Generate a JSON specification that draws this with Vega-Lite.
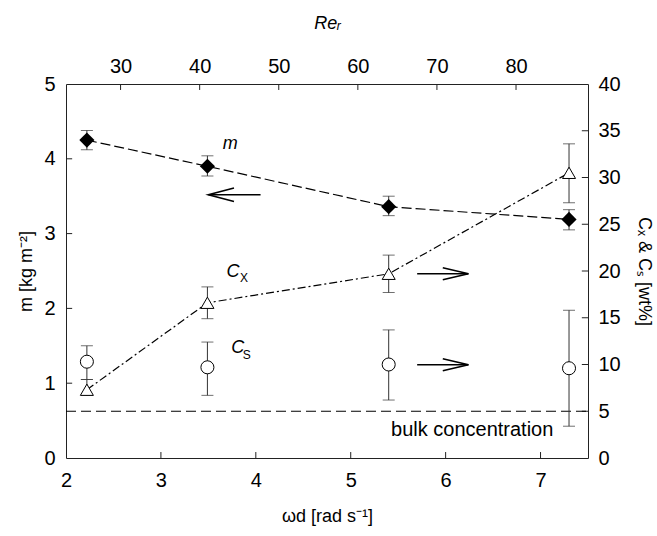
{
  "$schema": "https://vega.github.io/schema/vega-lite/v6.json",
  "width": 522,
  "height": 374,
  "autosize": {"type": "none"},
  "padding": {"left": 66, "top": 84, "right": 69, "bottom": 78},
  "background": "white",
  "config": {
    "view": {"stroke": null},
    "font": "Liberation Sans",
    "axis": {
      "domainColor": "#222",
      "labelFont": "Liberation Sans",
      "labelFontSize": 20,
      "labelColor": "#000",
      "titleFont": "Liberation Sans",
      "titleFontSize": 18,
      "titleFontWeight": "normal",
      "titleColor": "#000",
      "grid": false,
      "ticks": false,
      "labelOverlap": false,
      "labelFlush": false
    }
  },
  "datasets": {
    "m": [
      {"w": 2.22, "v": 4.25, "lo": 4.12, "hi": 4.38, "Re": 25.7},
      {"w": 3.49, "v": 3.90, "lo": 3.77, "hi": 4.04, "Re": 41.1},
      {"w": 5.40, "v": 3.36, "lo": 3.24, "hi": 3.50, "Re": 63.9},
      {"w": 7.30, "v": 3.19, "lo": 3.05, "hi": 3.32, "Re": 86.7}
    ],
    "conc": [
      {"s": "Cx", "w": 2.22, "v": 7.3, "lo": 6.7, "hi": 8.4},
      {"s": "Cx", "w": 3.49, "v": 16.6, "lo": 14.9, "hi": 18.3},
      {"s": "Cx", "w": 5.40, "v": 19.7, "lo": 17.7, "hi": 21.7},
      {"s": "Cx", "w": 7.30, "v": 30.5, "lo": 27.3, "hi": 33.6},
      {"s": "Cs", "w": 2.22, "v": 10.3, "lo": 8.4, "hi": 12.0},
      {"s": "Cs", "w": 3.49, "v": 9.7, "lo": 6.7, "hi": 12.4},
      {"s": "Cs", "w": 5.40, "v": 10.0, "lo": 6.2, "hi": 13.7},
      {"s": "Cs", "w": 7.30, "v": 9.6, "lo": 3.4, "hi": 15.8}
    ],
    "arrL": [
      {"seg": "s", "o": 1, "w": 3.50, "v": 3.52},
      {"seg": "s", "o": 2, "w": 4.05, "v": 3.52},
      {"seg": "h", "o": 1, "w": 3.77, "v": 3.61},
      {"seg": "h", "o": 2, "w": 3.50, "v": 3.52},
      {"seg": "h", "o": 3, "w": 3.77, "v": 3.43}
    ],
    "arrR": [
      {"seg": "a1s", "o": 1, "w": 5.70, "v": 19.71},
      {"seg": "a1s", "o": 2, "w": 6.24, "v": 19.71},
      {"seg": "a1h", "o": 1, "w": 5.97, "v": 20.35},
      {"seg": "a1h", "o": 2, "w": 6.24, "v": 19.71},
      {"seg": "a1h", "o": 3, "w": 5.97, "v": 19.07},
      {"seg": "a2s", "o": 1, "w": 5.70, "v": 9.98},
      {"seg": "a2s", "o": 2, "w": 6.24, "v": 9.98},
      {"seg": "a2h", "o": 1, "w": 5.97, "v": 10.62},
      {"seg": "a2h", "o": 2, "w": 6.24, "v": 9.98},
      {"seg": "a2h", "o": 3, "w": 5.97, "v": 9.34}
    ],
    "labBig": [
      {"t": "m", "w": 3.73, "v": 4.13},
      {"t": "C", "w": 3.76, "v": 2.42},
      {"t": "C", "w": 3.81, "v": 1.41}
    ],
    "labSub": [
      {"t": "X", "w": 3.875, "v": 2.35},
      {"t": "S", "w": 3.905, "v": 1.32}
    ],
    "bulk": [{"w": 2, "w2": 7.5, "v": 5}],
    "bulkText": [{"t": "bulk concentration", "w": 7.135, "v": 2.31}],
    "tickW": [{"w": 3}, {"w": 4}, {"w": 5}, {"w": 6}, {"w": 7}],
    "tickM": [{"v": 1}, {"v": 2}, {"v": 3}, {"v": 4}],
    "tickC": [{"v": 5}, {"v": 10}, {"v": 15}, {"v": 20}, {"v": 25}, {"v": 30}, {"v": 35}],
    "tickRe": [{"Re": 30}, {"Re": 40}, {"Re": 50}, {"Re": 60}, {"Re": 70}, {"Re": 80}]
  },
  "layer": [
    {"data": {"name": "m"}, "mark": {"type": "line", "color": "black", "strokeWidth": 1.2, "strokeDash": [10, 4]},
     "encoding": {
       "x": {"field": "w", "type": "quantitative", "scale": {"domain": [2, 7.5], "nice": false, "zero": false},
             "axis": {"orient": "bottom", "values": [2, 3, 4, 5, 6, 7], "title": "ωd [rad s⁻¹]", "labelPadding": 12, "titlePadding": 17}},
       "y": {"field": "v", "type": "quantitative", "scale": {"domain": [0, 5], "nice": false, "zero": false},
             "axis": {"orient": "left", "values": [0, 1, 2, 3, 4, 5], "title": "m [kg m⁻²]", "labelPadding": 11, "titlePadding": 8}}
     }},
    {"data": {"name": "tickW"}, "mark": {"type": "rule", "color": "#222", "strokeWidth": 1},
     "encoding": {
       "x": {"field": "w", "type": "quantitative", "scale": {"domain": [2, 7.5], "nice": false, "zero": false}, "axis": null},
       "y": {"datum": 0, "type": "quantitative", "scale": {"domain": [0, 5], "nice": false, "zero": false}, "axis": null},
       "y2": {"datum": 0.08}
     }},
    {"data": {"name": "tickM"}, "mark": {"type": "rule", "color": "#222", "strokeWidth": 1},
     "encoding": {
       "x": {"datum": 2, "type": "quantitative", "scale": {"domain": [2, 7.5], "nice": false, "zero": false}, "axis": null},
       "x2": {"datum": 2.065},
       "y": {"field": "v", "type": "quantitative", "scale": {"domain": [0, 5], "nice": false, "zero": false}, "axis": null}
     }},
    {"data": {"name": "tickC"}, "mark": {"type": "rule", "color": "#222", "strokeWidth": 1},
     "encoding": {
       "x": {"datum": 7.5, "type": "quantitative", "scale": {"domain": [2, 7.5], "nice": false, "zero": false}, "axis": null},
       "x2": {"datum": 7.435},
       "y": {"field": "v", "type": "quantitative", "scale": {"domain": [0, 40], "nice": false, "zero": false}, "axis": null}
     }},
    {"data": {"name": "tickRe"}, "mark": {"type": "rule", "color": "#222", "strokeWidth": 1},
     "encoding": {
       "x": {"field": "Re", "type": "quantitative", "scale": {"domain": [23.1, 89.1], "nice": false, "zero": false}, "axis": null},
       "y": {"datum": 5, "type": "quantitative", "scale": {"domain": [0, 5], "nice": false, "zero": false}, "axis": null},
       "y2": {"datum": 4.92}
     }},
    {"data": {"name": "m"}, "mark": {"type": "rule", "color": "#333", "strokeWidth": 1},
     "encoding": {
       "x": {"field": "w", "type": "quantitative", "scale": {"domain": [2, 7.5], "nice": false, "zero": false}, "axis": null},
       "y": {"field": "lo", "type": "quantitative", "scale": {"domain": [0, 5], "nice": false, "zero": false}, "axis": null},
       "y2": {"field": "hi"}
     }},
    {"data": {"name": "m"}, "mark": {"type": "tick", "orient": "horizontal", "color": "#333", "size": 12, "thickness": 1},
     "encoding": {
       "x": {"field": "w", "type": "quantitative", "scale": {"domain": [2, 7.5], "nice": false, "zero": false}, "axis": null},
       "y": {"field": "lo", "type": "quantitative", "scale": {"domain": [0, 5], "nice": false, "zero": false}, "axis": null}
     }},
    {"data": {"name": "m"}, "mark": {"type": "tick", "orient": "horizontal", "color": "#333", "size": 12, "thickness": 1},
     "encoding": {
       "x": {"field": "w", "type": "quantitative", "scale": {"domain": [2, 7.5], "nice": false, "zero": false}, "axis": null},
       "y": {"field": "hi", "type": "quantitative", "scale": {"domain": [0, 5], "nice": false, "zero": false}, "axis": null}
     }},
    {"data": {"name": "m"}, "mark": {"type": "point", "shape": "diamond", "filled": true, "color": "black", "size": 230, "opacity": 1},
     "encoding": {
       "x": {"field": "w", "type": "quantitative", "scale": {"domain": [2, 7.5], "nice": false, "zero": false}, "axis": null},
       "y": {"field": "v", "type": "quantitative", "scale": {"domain": [0, 5], "nice": false, "zero": false}, "axis": null}
     }},
    {"data": {"name": "arrL"}, "mark": {"type": "line", "color": "black", "strokeWidth": 1.6},
     "encoding": {
       "x": {"field": "w", "type": "quantitative", "scale": {"domain": [2, 7.5], "nice": false, "zero": false}, "axis": null},
       "y": {"field": "v", "type": "quantitative", "scale": {"domain": [0, 5], "nice": false, "zero": false}, "axis": null},
       "detail": {"field": "seg"}, "order": {"field": "o", "type": "quantitative"}
     }},
    {"data": {"name": "labBig"}, "mark": {"type": "text", "font": "Liberation Sans", "fontSize": 18, "fontStyle": "italic", "align": "center", "baseline": "alphabetic", "color": "black"},
     "encoding": {
       "x": {"field": "w", "type": "quantitative", "scale": {"domain": [2, 7.5], "nice": false, "zero": false}, "axis": null},
       "y": {"field": "v", "type": "quantitative", "scale": {"domain": [0, 5], "nice": false, "zero": false}, "axis": null},
       "text": {"field": "t"}
     }},
    {"data": {"name": "labSub"}, "mark": {"type": "text", "font": "Liberation Sans", "fontSize": 12, "align": "center", "baseline": "alphabetic", "color": "black"},
     "encoding": {
       "x": {"field": "w", "type": "quantitative", "scale": {"domain": [2, 7.5], "nice": false, "zero": false}, "axis": null},
       "y": {"field": "v", "type": "quantitative", "scale": {"domain": [0, 5], "nice": false, "zero": false}, "axis": null},
       "text": {"field": "t"}
     }},
    {"data": {"name": "bulk"}, "mark": {"type": "rule", "color": "black", "strokeWidth": 1.2, "strokeDash": [10, 5]},
     "encoding": {
       "x": {"field": "w", "type": "quantitative", "scale": {"domain": [2, 7.5], "nice": false, "zero": false}, "axis": null},
       "x2": {"field": "w2"},
       "y": {"field": "v", "type": "quantitative", "scale": {"domain": [0, 40], "nice": false, "zero": false}, "axis": null}
     }},
    {"data": {"name": "bulkText"}, "mark": {"type": "text", "font": "Liberation Sans", "fontSize": 20, "align": "right", "baseline": "alphabetic", "color": "black"},
     "encoding": {
       "x": {"field": "w", "type": "quantitative", "scale": {"domain": [2, 7.5], "nice": false, "zero": false}, "axis": null},
       "y": {"field": "v", "type": "quantitative", "scale": {"domain": [0, 40], "nice": false, "zero": false}, "axis": null},
       "text": {"field": "t"}
     }},
    {"data": {"name": "conc"}, "transform": [{"filter": "datum.s === 'Cx'"}],
     "mark": {"type": "line", "color": "black", "strokeWidth": 1.2, "strokeDash": [8, 3, 2, 3]},
     "encoding": {
       "x": {"field": "w", "type": "quantitative", "scale": {"domain": [2, 7.5], "nice": false, "zero": false}, "axis": null},
       "y": {"field": "v", "type": "quantitative", "scale": {"domain": [0, 40], "nice": false, "zero": false},
             "axis": {"orient": "right", "values": [0, 5, 10, 15, 20, 25, 30, 35, 40], "title": "Cₓ & Cₛ [wt%]", "labelPadding": 10, "titlePadding": 14}}
     }},
    {"data": {"name": "conc"}, "mark": {"type": "rule", "color": "#333", "strokeWidth": 1},
     "encoding": {
       "x": {"field": "w", "type": "quantitative", "scale": {"domain": [2, 7.5], "nice": false, "zero": false}, "axis": null},
       "y": {"field": "lo", "type": "quantitative", "scale": {"domain": [0, 40], "nice": false, "zero": false}, "axis": null},
       "y2": {"field": "hi"}
     }},
    {"data": {"name": "conc"}, "mark": {"type": "tick", "orient": "horizontal", "color": "#333", "size": 12, "thickness": 1},
     "encoding": {
       "x": {"field": "w", "type": "quantitative", "scale": {"domain": [2, 7.5], "nice": false, "zero": false}, "axis": null},
       "y": {"field": "lo", "type": "quantitative", "scale": {"domain": [0, 40], "nice": false, "zero": false}, "axis": null}
     }},
    {"data": {"name": "conc"}, "mark": {"type": "tick", "orient": "horizontal", "color": "#333", "size": 12, "thickness": 1},
     "encoding": {
       "x": {"field": "w", "type": "quantitative", "scale": {"domain": [2, 7.5], "nice": false, "zero": false}, "axis": null},
       "y": {"field": "hi", "type": "quantitative", "scale": {"domain": [0, 40], "nice": false, "zero": false}, "axis": null}
     }},
    {"data": {"name": "conc"}, "mark": {"type": "point", "filled": true, "fill": "white", "stroke": "black", "strokeWidth": 1, "size": 170, "opacity": 1},
     "encoding": {
       "x": {"field": "w", "type": "quantitative", "scale": {"domain": [2, 7.5], "nice": false, "zero": false}, "axis": null},
       "y": {"field": "v", "type": "quantitative", "scale": {"domain": [0, 40], "nice": false, "zero": false}, "axis": null},
       "shape": {"field": "s", "type": "nominal", "scale": {"domain": ["Cx", "Cs"], "range": ["triangle-up", "circle"]}, "legend": null}
     }},
    {"data": {"name": "arrR"}, "mark": {"type": "line", "color": "black", "strokeWidth": 1.6},
     "encoding": {
       "x": {"field": "w", "type": "quantitative", "scale": {"domain": [2, 7.5], "nice": false, "zero": false}, "axis": null},
       "y": {"field": "v", "type": "quantitative", "scale": {"domain": [0, 40], "nice": false, "zero": false}, "axis": null},
       "detail": {"field": "seg"}, "order": {"field": "o", "type": "quantitative"}
     }},
    {"data": {"name": "m"}, "mark": {"type": "point", "opacity": 0},
     "encoding": {
       "x": {"field": "Re", "type": "quantitative", "scale": {"domain": [23.1, 89.1], "nice": false, "zero": false},
             "axis": {"orient": "top", "values": [30, 40, 50, 60, 70, 80], "title": "Reᵣ", "titleFontStyle": "italic", "labelPadding": 8, "titlePadding": 24}},
       "y": {"field": "v", "type": "quantitative", "scale": {"domain": [0, 5], "nice": false, "zero": false}, "axis": null}
     }}
  ],
  "resolve": {"scale": {"x": "independent", "y": "independent"}}
}
